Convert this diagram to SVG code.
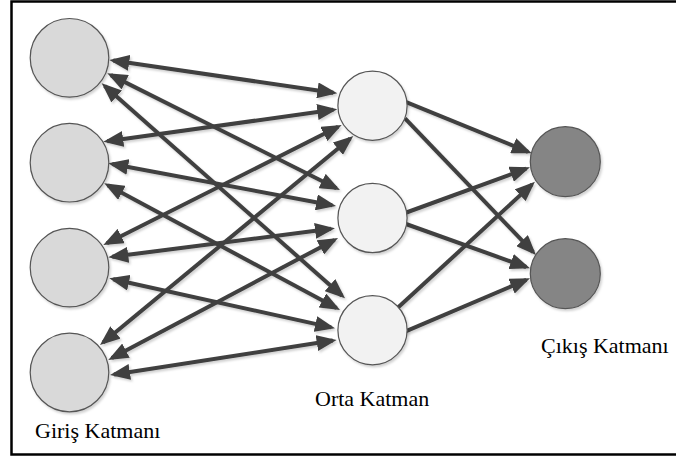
<svg xmlns="http://www.w3.org/2000/svg" width="676" height="459" viewBox="0 0 676 459">
<defs>
<style>
.frame{fill:none;stroke:#000;stroke-width:2.5}
.in{fill:#d9d9d9;stroke:#555;stroke-width:1.2}
.mid{fill:#f2f2f2;stroke:#555;stroke-width:1.2}
.out{fill:#858585;stroke:#555;stroke-width:1.2}
.c{stroke:#404040;stroke-width:4;fill:none}
.bi{marker-start:url(#ah);marker-end:url(#ah)}
.uni{marker-end:url(#ah)}
.lbl{font-family:"Liberation Serif","Times New Roman",serif;font-size:22px;fill:#000}
</style>
<marker id="ah" markerUnits="userSpaceOnUse" markerWidth="20" markerHeight="16" refX="16" refY="8" orient="auto-start-reverse" viewBox="0 0 20 16">
<path d="M0,0 L20,8 L0,16 z" fill="#404040"/>
</marker>
<filter id="sh" x="-10%" y="-10%" width="130%" height="130%">
<feDropShadow dx="1.5" dy="2" stdDeviation="0.8" flood-color="#000" flood-opacity="0.18"/>
</filter>
</defs>
<rect x="0" y="0" width="676" height="459" fill="#fff"/>
<rect class="frame" x="11.5" y="1.5" width="672" height="453"/>
<g id="connectors" filter="url(#sh)">
<line class="c bi" x1="113.3" y1="60.6" x2="333.3" y2="92.7"/>
<line class="c bi" x1="110.9" y1="75.1" x2="336.4" y2="188.2"/>
<line class="c bi" x1="104.7" y1="85.9" x2="342" y2="295.7"/>
<line class="c bi" x1="107.3" y1="141.2" x2="333.3" y2="109.8"/>
<line class="c bi" x1="112.2" y1="164.0" x2="332.1" y2="205.3"/>
<line class="c bi" x1="107.8" y1="185.2" x2="336.5" y2="308.1"/>
<line class="c bi" x1="106.9" y1="243.2" x2="338.1" y2="126.8"/>
<line class="c bi" x1="112.3" y1="256.8" x2="331" y2="228.8"/>
<line class="c bi" x1="113.2" y1="279.2" x2="331.1" y2="327.4"/>
<line class="c bi" x1="103.1" y1="342.5" x2="350.2" y2="138.5"/>
<line class="c bi" x1="111.8" y1="358.1" x2="334.5" y2="239.9"/>
<line class="c bi" x1="114" y1="374.4" x2="332.7" y2="340.6"/>
<line class="c uni" x1="405" y1="101.7" x2="528" y2="151.8"/>
<line class="c uni" x1="405" y1="118.3" x2="533.2" y2="252.1"/>
<line class="c uni" x1="405" y1="213" x2="526.2" y2="168.7"/>
<line class="c uni" x1="406" y1="224" x2="526.2" y2="267"/>
<line class="c uni" x1="398.3" y1="307.3" x2="532" y2="184.4"/>
<line class="c uni" x1="405" y1="331.7" x2="526.3" y2="279.9"/>
</g>
<g id="input1" filter="url(#sh)"><circle class="in" cx="69.5" cy="57.8" r="39.3"/></g>
<g id="input2" filter="url(#sh)"><circle class="in" cx="69.5" cy="162.7" r="39.3"/></g>
<g id="input3" filter="url(#sh)"><circle class="in" cx="69.5" cy="267.6" r="39.3"/></g>
<g id="input4" filter="url(#sh)"><circle class="in" cx="69.5" cy="372.5" r="39.3"/></g>
<g id="hidden1" filter="url(#sh)"><circle class="mid" cx="372.5" cy="105.7" r="34.6"/></g>
<g id="hidden2" filter="url(#sh)"><circle class="mid" cx="372.5" cy="218" r="34.6"/></g>
<g id="hidden3" filter="url(#sh)"><circle class="mid" cx="372.5" cy="330.2" r="34.6"/></g>
<g id="output1" filter="url(#sh)"><circle class="out" cx="565.3" cy="161.7" r="35"/></g>
<g id="output2" filter="url(#sh)"><circle class="out" cx="565.3" cy="273.7" r="35"/></g>
<g id="labels">
<text class="lbl" x="35" y="438">Giriş Katmanı</text>
<text class="lbl" x="315" y="406">Orta Katman</text>
<text class="lbl" x="541" y="353">Çıkış Katmanı</text>
</g>
</svg>
